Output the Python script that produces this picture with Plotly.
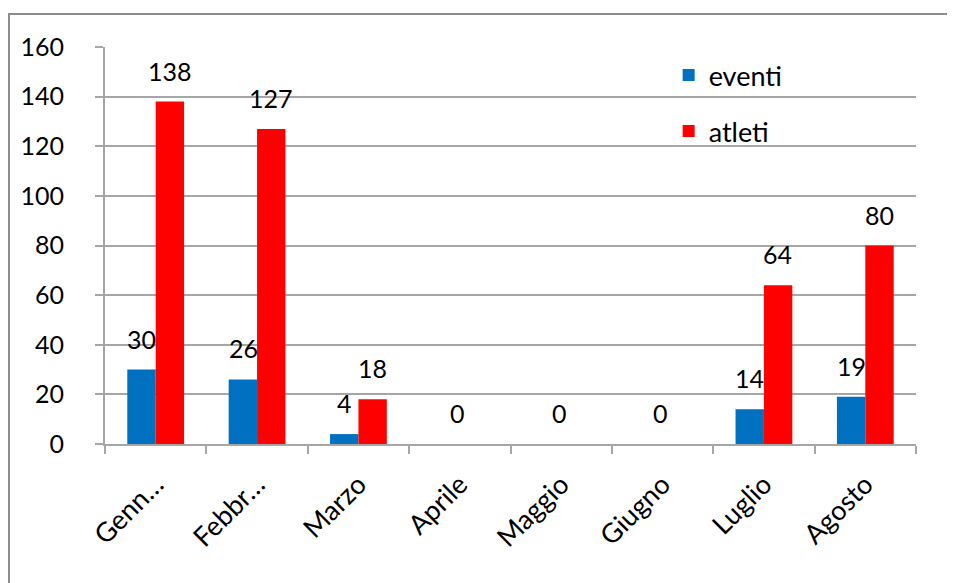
import plotly.graph_objects as go

mesi = ["Genn…", "Febbr…", "Marzo", "Aprile", "Maggio", "Giugno", "Luglio", "Agosto"]
eventi = [30, 26, 4, 0, 0, 0, 14, 19]
atleti = [138, 127, 18, 0, 0, 0, 64, 80]
y_ticks = [0, 20, 40, 60, 80, 100, 120, 140, 160]

FONT = "Lato"
GRID = "#a6a6a6"

fig = go.Figure()
fig.add_trace(go.Bar(name="eventi", x=mesi, y=eventi, marker_color="#0070C0",
                     marker_line_width=0, legendgroup="e"))
fig.add_trace(go.Bar(name="atleti", x=mesi, y=atleti, marker_color="#FF0000",
                     marker_line_width=0, legendgroup="a"))

annotations = []
for m, v in zip(mesi, eventi):
    if v > 0:
        annotations.append(dict(x=m, y=v, xref="x", yref="y", text=str(v), showarrow=False,
                                xshift=-14, yshift=14, yanchor="bottom",
                                font=dict(family=FONT, size=25, color="black")))
for m, v in zip(mesi, atleti):
    annotations.append(dict(x=m, y=v, xref="x", yref="y", text=str(v), showarrow=False,
                            xshift=14 if v > 0 else -2, yshift=14, yanchor="bottom",
                            font=dict(family=FONT, size=25, color="black")))

fig.update_layout(
    width=955, height=583,
    margin=dict(l=97, r=47, t=39, b=147),
    paper_bgcolor="white", plot_bgcolor="white",
    barmode="group", bargap=0.44, bargroupgap=0,
    font=dict(family=FONT, size=24, color="black"),
    showlegend=True,
    legend=dict(x=0.695, y=0.99, xanchor="left", yanchor="top",
                font=dict(family=FONT, size=27), tracegroupgap=18,
                bgcolor="rgba(0,0,0,0)", itemwidth=30),
    xaxis=dict(type="category", tickangle=-45, showgrid=False,
               showline=True, linecolor=GRID, linewidth=2,
               ticks="outside", tickson="boundaries", ticklen=8, tickcolor=GRID, tickwidth=2,
               ticklabelstandoff=12,
               tickfont=dict(family=FONT, size=27)),
    yaxis=dict(range=[0, 160], tickvals=y_ticks, showgrid=True, gridcolor=GRID, gridwidth=2,
               showline=True, linecolor=GRID, linewidth=2, zeroline=False,
               ticks="outside", ticklen=8, tickcolor=GRID, tickwidth=2,
               ticklabelstandoff=26, tickfont=dict(family=FONT, size=25)),
    annotations=annotations,
    shapes=[dict(type="rect", xref="paper", yref="paper",
                 x0=-0.1184, x1=1.0395, y0=-0.37, y1=1.083,
                 line=dict(color="#8c8c8c", width=2), fillcolor="rgba(0,0,0,0)", layer="below")],
)

fig.write_html("out.html")
